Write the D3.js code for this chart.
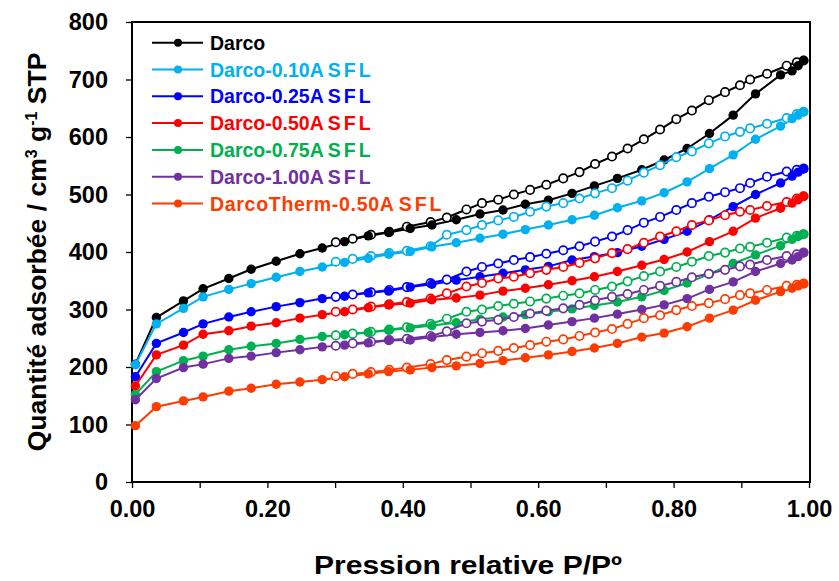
<!DOCTYPE html>
<html><head><meta charset="utf-8">
<script src="https://cdn.jsdelivr.net/npm/d3@7"></script>
<style>body{margin:0;background:#fff}svg{display:block}text{font-family:"Liberation Sans",Arial,sans-serif;font-weight:bold}</style>
</head><body><svg id="c" width="839" height="581"></svg>
<script>
// Relative pressures (shared by all samples)
const pAds = [0.005,0.036,0.076,0.105,0.143,0.176,0.213,0.248,0.281,0.314,0.349,0.379,0.411,0.443,0.479,0.514,0.548,0.581,0.615,0.650,0.683,0.717,0.753,0.786,0.820,0.853,0.888,0.921,0.958,0.975,0.984,0.992];
const pDes = [0.992,0.982,0.967,0.938,0.913,0.898,0.876,0.852,0.827,0.804,0.780,0.756,0.732,0.709,0.684,0.661,0.637,0.612,0.588,0.564,0.541,0.517,0.494,0.465,0.441,0.406,0.380,0.353,0.326,0.301];

const seriesNames = ["Darco","Darco-0.10ASFL","Darco-0.25ASFL","Darco-0.50ASFL","Darco-0.75ASFL","Darco-1.00ASFL","DarcoTherm-0.50ASFL"];
const seriesColors = ["#000000","#00B0F0","#0000FF","#FF0000","#00B050","#7030A0","#FF3C00"];

const adsDarco   = [205,286,315,336,354,370,384,397,407,418,428,434,441,447,456,466,473,483,490,502,515,528,543,560,580,606,638,675,708,715,724,733];
const desDarco   = [733,730,724,710,700,690,678,664,646,631,613,596,580,566,553,539,528,517,508,500,491,485,474,460,452,444,435,430,423,417];
const ads010     = [204,275,302,322,335,345,356,366,374,382,389,396,401,409,416,424,431,439,447,456,464,477,489,503,522,545,569,596,619,632,638,644];
const des010     = [644,640,633,623,615,609,601,589,575,565,551,538,524,511,502,493,485,479,470,461,455,447,438,430,410,402,398,393,388,383];
const ads025     = [183,241,260,275,287,296,305,312,319,323,329,332,339,344,351,357,363,369,375,386,392,399,410,422,436,456,479,500,520,532,539,545];
const des025     = [545,543,540,531,520,511,504,496,485,473,461,451,438,427,418,410,403,397,391,386,380,374,366,352,346,339,334,330,326,322];
const ads050     = [167,221,238,257,263,271,277,285,291,296,303,308,311,317,320,325,332,337,343,350,357,366,377,387,400,418,436,459,476,485,491,497];
const des050     = [497,493,487,480,473,470,464,455,447,436,427,416,405,398,389,381,374,369,363,357,354,346,340,328,319,313,309,305,300,296];
const ads075     = [152,192,211,219,230,236,241,248,253,256,260,264,268,272,277,283,287,291,296,301,307,313,322,333,346,362,380,395,411,422,427,431];
const des075     = [431,428,425,416,409,406,399,393,383,374,366,358,349,340,334,328,324,319,314,310,306,300,296,284,275,269,265,261,258,255];
const ads100     = [143,180,199,205,215,219,225,230,235,238,242,246,247,252,257,260,263,267,273,279,285,292,300,308,319,335,348,366,380,386,392,399];
const des100     = [399,396,393,386,378,375,369,362,356,348,341,334,327,322,316,308,302,298,293,287,282,279,276,262,254,249,247,244,241,237];
const adsTherm   = [98,131,141,148,158,163,170,174,178,183,188,192,195,199,202,206,211,216,221,227,233,241,252,259,270,285,299,316,331,337,341,345];
const desTherm   = [345,343,341,334,328,325,318,311,306,299,290,285,275,266,260,254,248,244,238,233,228,224,218,212,205,199,195,191,188,184];

const adsAll = [adsDarco,ads010,ads025,ads050,ads075,ads100,adsTherm];
const desAll = [desDarco,des010,des025,des050,des075,des100,desTherm];

const xTicks = [0,0.2,0.4,0.6,0.8,1.0];
const xMinor = [0,0.1,0.2,0.3,0.4,0.5,0.6,0.7,0.8,0.9,1.0];
const yTicks = [0,100,200,300,400,500,600,700,800];

const svg = d3.select("#c");
const L=132, R=809, T=22, B=482;
const x = d3.scaleLinear().domain([0,1]).range([L,R]);
const y = d3.scaleLinear().domain([0,800]).range([B,T]);

// axes
const xAx = svg.append("g").attr("transform",`translate(0,${B})`)
  .call(d3.axisBottom(x).tickValues(xMinor).tickSize(6).tickPadding(10).tickFormat(d=> xTicks.some(t=>Math.abs(t-d)<1e-9)? d3.format(".2f")(d):""));
xAx.selectAll("text").attr("font-size",23.5).attr("fill","#000").attr("dy","0.8em");
xAx.select(".domain").remove();
xAx.selectAll(".tick line").attr("stroke","#000").attr("stroke-width",1.3);

const yAx = svg.append("g").attr("transform",`translate(${L},0)`)
  .call(d3.axisLeft(y).tickValues(yTicks).tickSize(6).tickPadding(18).tickFormat(d3.format("d")));
yAx.selectAll("text").attr("font-size",23.5).attr("fill","#000");
yAx.select(".domain").remove();
yAx.selectAll(".tick line").attr("stroke","#000").attr("stroke-width",1.3);

svg.append("rect").attr("x",L).attr("y",T).attr("width",R-L+1).attr("height",B-T)
  .attr("fill","none").attr("stroke","#000").attr("stroke-width",2);

const line = d3.line().x(d=>x(d[0])).y(d=>y(d[1]));
const g = svg.append("g");
seriesNames.forEach((n,i)=>{
  const c = seriesColors[i];
  const a = pAds.map((p,j)=>[p,adsAll[i][j]]);
  const d = pDes.map((p,j)=>[p,desAll[i][j]]);
  g.append("path").attr("d",line(a)).attr("fill","none").attr("stroke",c).attr("stroke-width",2);
  g.append("path").attr("d",line(d)).attr("fill","none").attr("stroke",c).attr("stroke-width",2);
  g.selectAll(null).data(d).enter().append("circle")
    .attr("cx",v=>x(v[0])).attr("cy",v=>y(v[1])).attr("r",4.2)
    .attr("fill","#fff").attr("stroke",c).attr("stroke-width",1.7);
  g.selectAll(null).data(a).enter().append("circle")
    .attr("cx",v=>x(v[0])).attr("cy",v=>y(v[1])).attr("r",4.7).attr("fill",c);
});

// legend
const lg = svg.append("g");
seriesNames.forEach((n,i)=>{
  const cy = 42.7 + i*26.8, c = seriesColors[i];
  lg.append("line").attr("x1",152).attr("x2",203).attr("y1",cy).attr("y2",cy).attr("stroke",c).attr("stroke-width",2);
  lg.append("circle").attr("cx",178).attr("cy",cy).attr("r",4).attr("fill",c);
  const t = lg.append("text").attr("x",210).attr("y",cy+7).attr("font-size",19.5).attr("fill",c);
  if (i===6) t.attr("letter-spacing","0.7");
  const m = n.match(/^(.*?)(ASFL)?$/);
  t.append("tspan").text(m[1]);
  if (m[2]) { t.append("tspan").text("A"); t.append("tspan").attr("letter-spacing","3").attr("dx",4).text("SFL"); }
});

// axis titles
svg.append("text").attr("transform","translate(46,252) rotate(-90)").attr("text-anchor","middle")
  .attr("font-size",26.5).attr("fill","#000")
  .html('Quantité adsorbée / cm<tspan dy="-9" font-size="16">3</tspan><tspan dy="9"> g</tspan><tspan dy="-9" font-size="16">-1</tspan><tspan dy="9"> STP</tspan>');
svg.append("text").attr("x",468).attr("y",574).attr("text-anchor","middle").attr("font-size",26)
  .attr("textLength",308).attr("lengthAdjust","spacingAndGlyphs").attr("fill","#000")
  .text("Pression relative P/Pº");
</script></body></html>
